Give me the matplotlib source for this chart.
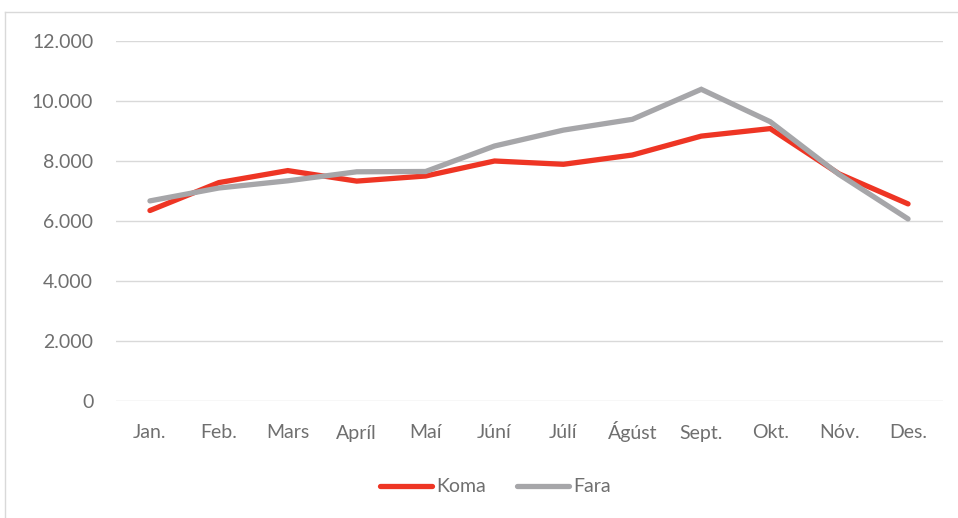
import matplotlib
matplotlib.use("Agg")
import matplotlib.pyplot as plt
from matplotlib.lines import Line2D
from matplotlib.ticker import FuncFormatter

months = ["Jan.", "Feb.", "Mars", "Apríl", "Maí", "Júní", "Júlí", "Ágúst", "Sept.", "Okt.", "Nóv.", "Des."]
koma = [6350, 7280, 7680, 7330, 7500, 8000, 7890, 8200, 8830, 9080, 7570, 6570]
fara = [6670, 7100, 7340, 7640, 7650, 8500, 9030, 9390, 10390, 9310, 7550, 6070]
series_names = ["Koma", "Fara"]
yticks = [0, 2000, 4000, 6000, 8000, 10000, 12000]

plt.rcParams['font.family'] = ['Lato', 'DejaVu Sans']
red = "#EE3524"
gray = "#A6A6A9"
txt = "#6F6F6F"
fs = 14

fig = plt.figure(figsize=(9.58, 5.18), dpi=100)
ax = fig.add_axes([115.5/958, 1-401/518, (942.5-115.5)/958, 360/518])
x = list(range(len(months)))
ax.plot(x, koma, color=red, lw=3.8, solid_capstyle='round', solid_joinstyle='miter', label=series_names[0], zorder=3)
ax.plot(x, fara, color=gray, lw=3.8, solid_capstyle='round', solid_joinstyle='miter', label=series_names[1], zorder=3)
ax.set_xlim(-0.5, 11.5)
ax.set_ylim(0, 12000)
ax.set_yticks(yticks)
ax.yaxis.set_major_formatter(FuncFormatter(lambda v, p: f"{int(v):,}".replace(",", ".")))
ax.set_xticks(x)
ax.set_xticklabels(months, va='baseline')
ax.grid(axis='y', color="#D9D9D9", lw=1)
ax.set_axisbelow(True)
for s in ax.spines.values():
    s.set_visible(False)
ax.tick_params(axis='both', length=0, labelsize=fs, labelcolor=txt)
ax.tick_params(axis='y', pad=16)
ax.tick_params(axis='x', pad=27)

# legend
handles = [Line2D([0], [0], color=red, lw=3.8, solid_capstyle='round'),
           Line2D([0], [0], color=gray, lw=3.8, solid_capstyle='round')]
leg = fig.legend(handles, series_names, loc='center', bbox_to_anchor=(0.517, 1-487/518),
                 ncol=2, frameon=False, fontsize=fs, handlelength=2.7, handletextpad=0.2,
                 columnspacing=1.6)
for t in leg.get_texts():
    t.set_color(txt)

# outer border
fig.add_artist(Line2D([5/958, 5/958], [0, 1-12/518], color="#D9D9D9", lw=1, transform=fig.transFigure))
fig.add_artist(Line2D([5/958, 1], [1-12/518, 1-12/518], color="#D9D9D9", lw=1, transform=fig.transFigure))

fig.savefig("out.png", dpi=100)
